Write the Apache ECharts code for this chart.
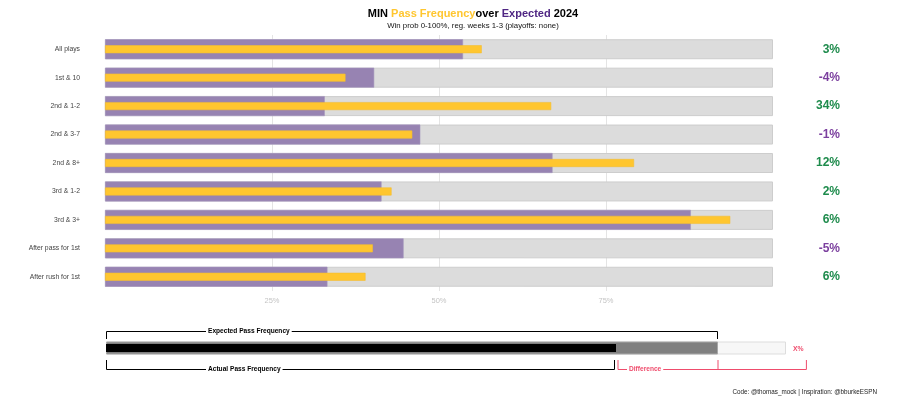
<!DOCTYPE html>
<html>
<head>
<meta charset="utf-8">
<script src="https://cdn.jsdelivr.net/npm/echarts@6/dist/echarts.min.js"></script>
<style>html,body{margin:0;padding:0;background:#fff}#c{width:900px;height:405px}</style>
</head>
<body>
<div id="c"></div>
<script>
const categories = ['All plays','1st & 10','2nd & 1-2','2nd & 3-7','2nd & 8+','3rd & 1-2','3rd & 3+','After pass for 1st','After rush for 1st'];
const expectedPct = [53.6, 40.3, 32.9, 47.2, 67.0, 41.4, 87.7, 44.7, 33.3];
const actualPct   = [56.4, 36.0, 66.8, 46.0, 79.2, 42.9, 93.6, 40.1, 39.0];
const diffLabels  = [3, -4, 34, -1, 12, 2, 6, -5, 6];
const fullPct     = [100, 100, 100, 100, 100, 100, 100, 100, 100];
const xTickLabels = ['25%', '50%', '75%'];
// legend example bar: full, expected, actual
const legendCategory = ['Legend'];
const legendFull = [100];
const legendExpected = [90];
const legendActual = [75];

const FONT = '"Liberation Sans", Arial, Helvetica, sans-serif';
const GREEN = '#1e8b4c', PURPLE_TXT = '#7b3f9e', RED = '#ef4c6c';

const chart = echarts.init(document.getElementById('c'), null, {renderer: 'canvas'});

const option = {
  animation: false,
  textStyle: {fontFamily: FONT},
  grid: [
    {left: 105, right: 127, top: 35, height: 256},
    {left: 106, width: 680, top: 341, height: 14}
  ],
  xAxis: [
    {
      gridIndex: 0, type: 'value', min: 0, max: 100, interval: 25,
      axisLine: {show: false}, axisTick: {show: false},
      axisLabel: {
        color: '#c4c4c4', fontSize: 7.5, fontFamily: FONT, margin: 6,
        formatter: function (v) { const i = [25, 50, 75].indexOf(v); return i >= 0 ? xTickLabels[i] : ''; }
      },
      splitLine: {show: true, lineStyle: {color: ['rgba(0,0,0,0)', '#e4e4e4', '#e4e4e4', '#e4e4e4', 'rgba(0,0,0,0)'], width: 1}}
    },
    {
      gridIndex: 1, type: 'value', min: 0, max: 100, show: false, splitLine: {show: false}
    }
  ],
  yAxis: [
    {
      gridIndex: 0, type: 'category', data: categories, inverse: true,
      axisLine: {show: false}, axisTick: {show: false},
      axisLabel: {color: '#444', fontSize: 6.8, fontFamily: FONT, margin: 25}
    },
    {
      gridIndex: 0, type: 'category', data: categories, inverse: true, show: false
    },
    {
      gridIndex: 1, type: 'category', data: legendCategory, show: false
    },
    {
      gridIndex: 1, type: 'category', data: legendCategory, show: false
    }
  ],
  series: [
    {
      type: 'bar', xAxisIndex: 0, yAxisIndex: 0, data: fullPct, barWidth: 20, barGap: '-100%',
      itemStyle: {color: '#dcdcdc', borderColor: '#cdcdcd', borderWidth: 1}, z: 2,
      label: {
        show: true, position: ['100%', '50%'], offset: [67, 0], align: 'right', verticalAlign: 'middle',
        formatter: function (p) { const d = diffLabels[p.dataIndex]; return (d >= 0 ? '{g|' : '{p|') + d + '%}'; },
        rich: {
          g: {color: GREEN, fontSize: 12, fontWeight: 'bold', fontFamily: FONT},
          p: {color: PURPLE_TXT, fontSize: 12, fontWeight: 'bold', fontFamily: FONT}
        }
      }
    },
    {
      type: 'bar', xAxisIndex: 0, yAxisIndex: 0, data: expectedPct, barWidth: 20, barGap: '-100%',
      itemStyle: {color: '#9783b2', borderColor: '#a595bd', borderWidth: 0.6}, z: 3
    },
    {
      type: 'bar', xAxisIndex: 0, yAxisIndex: 1, data: actualPct, barWidth: 8,
      itemStyle: {color: '#ffc62f', borderColor: '#f4bd32', borderWidth: 0.6}, z: 4
    },
    {
      type: 'bar', xAxisIndex: 1, yAxisIndex: 2, data: legendFull, barWidth: 13, barGap: '-100%',
      itemStyle: {color: '#f7f7f7', borderColor: '#dddddd', borderWidth: 1}, z: 2
    },
    {
      type: 'bar', xAxisIndex: 1, yAxisIndex: 2, data: legendExpected, barWidth: 13, barGap: '-100%',
      itemStyle: {color: '#808080', borderColor: '#a8a8a8', borderWidth: 1}, z: 3
    },
    {
      type: 'bar', xAxisIndex: 1, yAxisIndex: 3, data: legendActual, barWidth: 8,
      itemStyle: {color: '#000000'}, z: 4
    },
    {
      type: 'custom', xAxisIndex: 1, yAxisIndex: 2, data: [[0, 0]], z: 5, silent: true,
      renderItem: function (params, api) {
        const cy = api.coord([0, 0])[1];
        const x0 = api.coord([0, 0])[0];
        const xe = api.coord([legendExpected[0], 0])[0];
        const xa = api.coord([legendActual[0], 0])[0];
        const xr = api.coord([103, 0])[0];
        const xt = api.coord([15, 0])[0];
        const topY = cy - 17, topTick = cy - 9;
        const botY = cy + 21, botTick = cy + 12;
        const blk = {stroke: '#000', lineWidth: 1, fill: null};
        const red = {stroke: RED, lineWidth: 1, fill: null};
        const txt = function (x, y, s, color, align) {
          return {type: 'text', x: x, y: y, z2: 10, style: {
            text: s, fill: color, font: 'bold 6.6px ' + FONT, align: align || 'left', verticalAlign: 'middle',
            backgroundColor: '#fff', padding: [0, 2]
          }};
        };
        return {type: 'group', children: [
          {type: 'polyline', shape: {points: [[x0 + 0.5, topTick], [x0 + 0.5, topY + 0.5], [xe - 0.5, topY + 0.5], [xe - 0.5, topTick]]}, style: blk},
          {type: 'polyline', shape: {points: [[x0 + 0.5, botTick], [x0 + 0.5, botY + 0.5], [xa - 1.5, botY + 0.5], [xa - 1.5, botTick]]}, style: blk},
          {type: 'polyline', shape: {points: [[xa + 2, botTick], [xa + 2, botY + 0.5], [xe, botY + 0.5], [xe, botTick]]}, style: red},
          {type: 'polyline', shape: {points: [[xe, botY + 0.5], [xr, botY + 0.5], [xr, botTick]]}, style: red},
          txt(xt - 2, topY + 0.5, 'Expected Pass Frequency', '#000'),
          txt(xt - 2, botY + 0.5, 'Actual Pass Frequency', '#000'),
          txt(xa + 11, botY + 0.5, 'Difference', RED),
          {type: 'text', x: api.coord([101.8, 0])[0], y: cy + 1, style: {text: 'X%', fill: RED, font: 'bold 6.8px ' + FONT, align: 'center', verticalAlign: 'middle'}}
        ]};
      }
    }
  ],
  graphic: [
    {
      type: 'text', x: 473, y: 14, z: 10,
      style: {
        text: '{b|MIN }{g|Pass Frequency}{b|over }{p|Expected}{b| 2024}',
        align: 'center', verticalAlign: 'middle',
        rich: {
          b: {fill: '#000', fontSize: 11, fontWeight: 'bold', fontFamily: FONT},
          g: {fill: '#ffc62f', fontSize: 11, fontWeight: 'bold', fontFamily: FONT},
          p: {fill: '#4f2683', fontSize: 11, fontWeight: 'bold', fontFamily: FONT}
        }
      }
    },
    {
      type: 'text', x: 473, y: 26, z: 10,
      style: {text: 'Win prob 0-100%, reg. weeks 1-3 (playoffs: none)', fill: '#111', font: '7.8px ' + FONT, align: 'center', verticalAlign: 'middle'}
    },
    {
      type: 'text', x: 877, y: 392, z: 10,
      style: {text: 'Code: @thomas_mock | Inspiration: @bburkeESPN', fill: '#222', font: '6.3px ' + FONT, align: 'right', verticalAlign: 'middle'}
    }
  ]
};
chart.setOption(option);
</script>
</body>
</html>
